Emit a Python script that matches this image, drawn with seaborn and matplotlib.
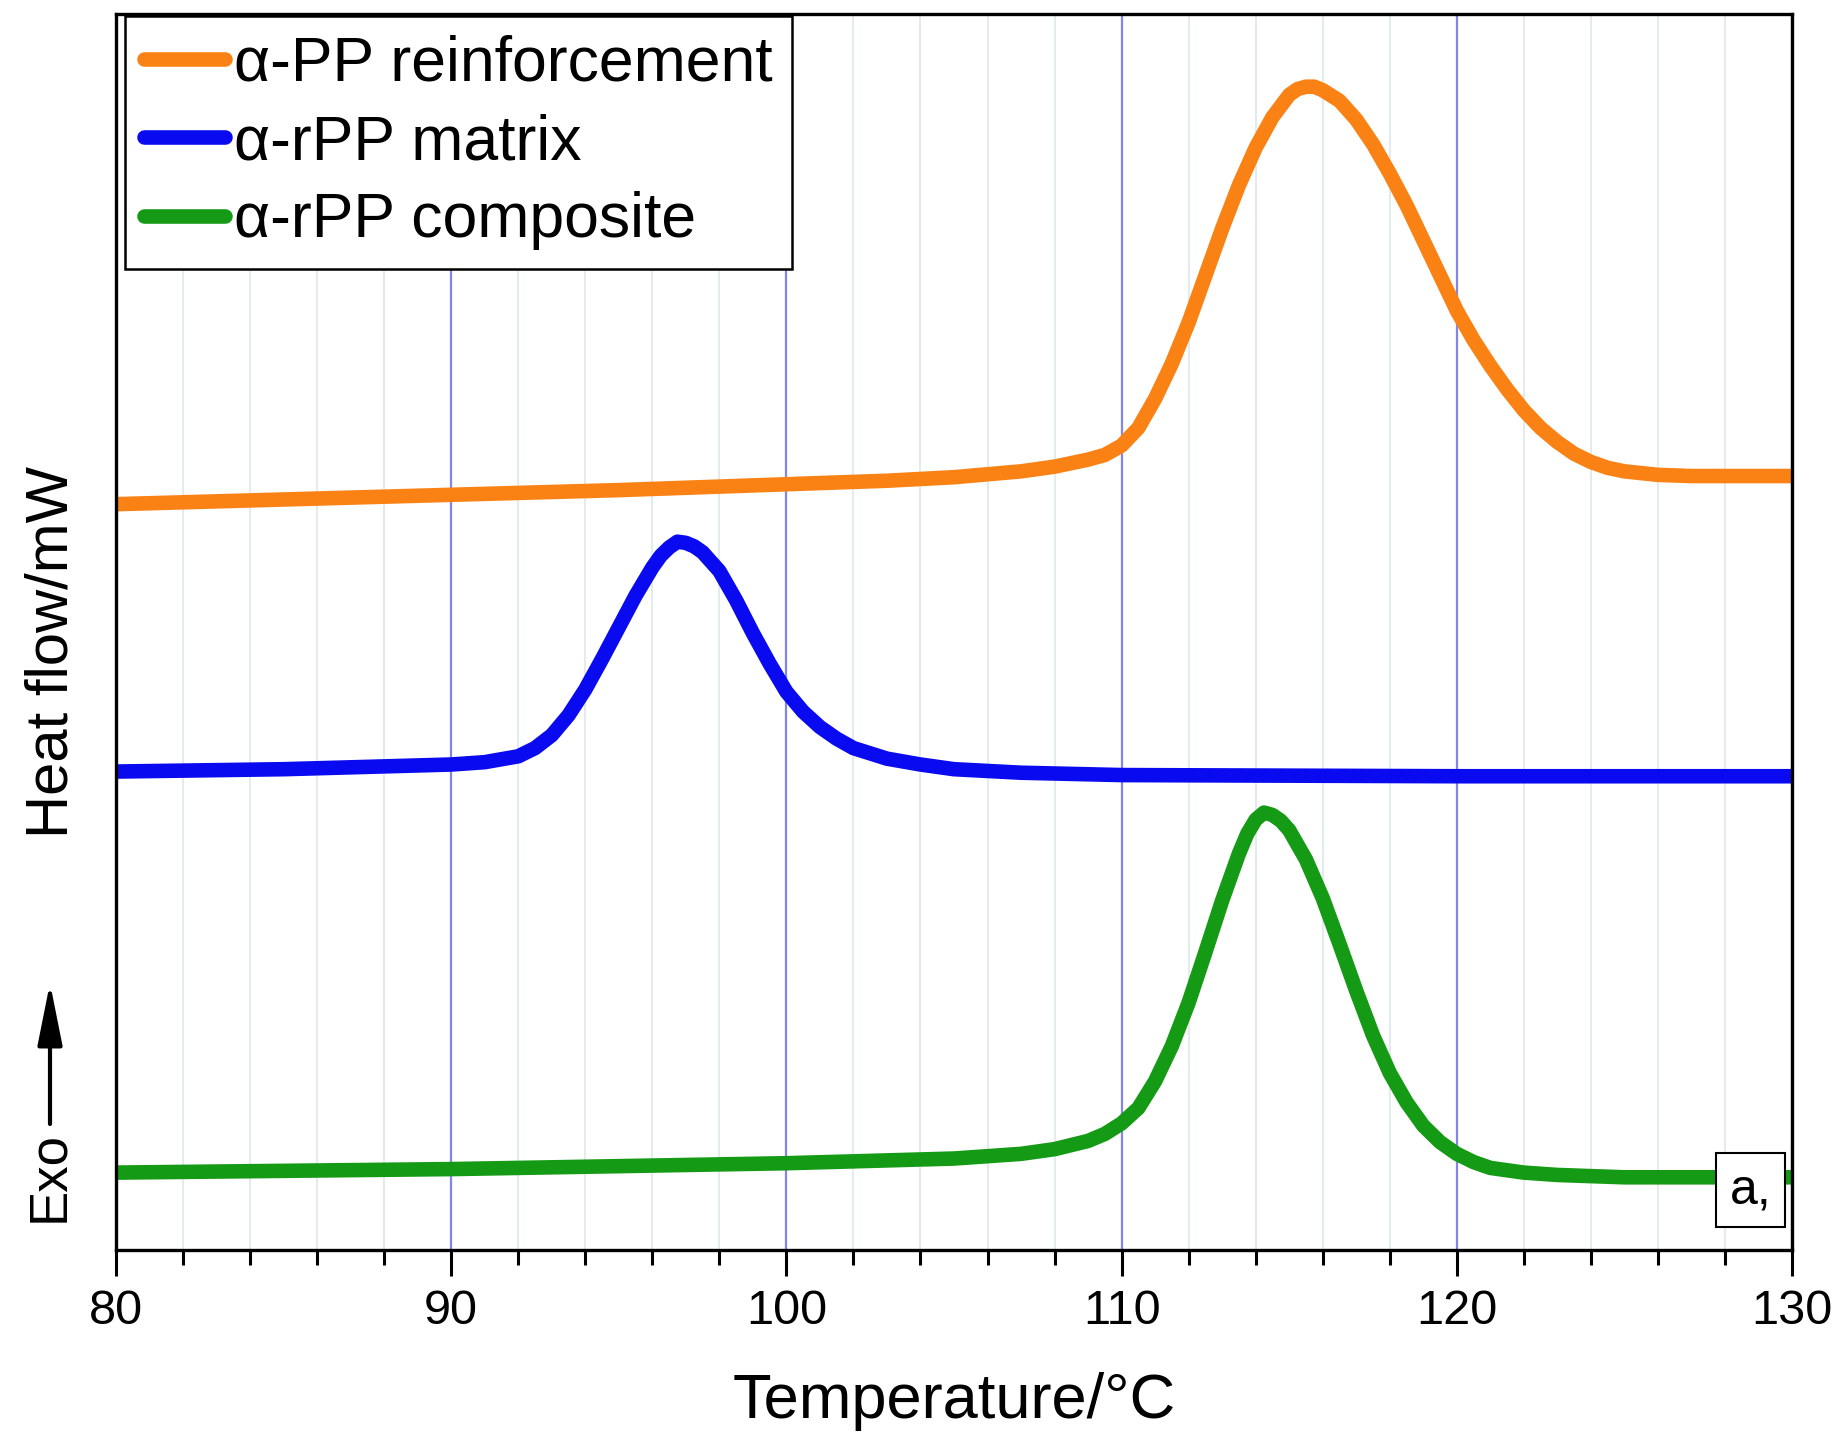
import numpy as np
import pandas as pd
import matplotlib
matplotlib.use("Agg")
import matplotlib.pyplot as plt
import seaborn as sns

# ---- data (Temperature in °C, heat flow in arbitrary mW units) ----
orange_T = [80, 85, 90, 95, 100, 103, 105, 107, 108, 109, 109.5, 110, 110.5, 111, 111.5,
            112, 112.5, 113, 113.5, 114, 114.5, 115, 115.25, 115.5, 115.75, 116, 116.5, 117, 117.5, 118,
            118.5, 119, 119.5, 120, 120.5, 121, 121.5, 122, 122.5, 123, 123.5, 124, 124.5,
            125, 126, 127, 130]
orange_HF = [6.36, 6.40, 6.44, 6.48, 6.53, 6.56, 6.59, 6.64, 6.68, 6.74, 6.78, 6.86, 7.01, 7.26, 7.56,
             7.91, 8.31, 8.71, 9.08, 9.40, 9.66, 9.85, 9.90, 9.92, 9.92, 9.89, 9.80, 9.64, 9.43, 9.18,
             8.91, 8.61, 8.31, 8.01, 7.76, 7.54, 7.34, 7.16, 7.01, 6.89, 6.79, 6.72, 6.67,
             6.64, 6.61, 6.60, 6.60]

blue_T = [80, 85, 90, 91, 92, 92.5, 93, 93.5, 94, 94.5, 95, 95.5, 96, 96.25, 96.5, 96.75, 97, 97.25, 97.5,
          98, 98.5, 99, 99.5, 100, 100.5, 101, 101.5, 102, 103, 104, 105, 107, 110, 120, 130]
blue_HF = [4.08, 4.10, 4.14, 4.16, 4.21, 4.28, 4.39, 4.56, 4.78, 5.04, 5.31, 5.58, 5.82, 5.92, 5.99, 6.04, 6.03, 6.00, 5.95,
           5.79, 5.54, 5.26, 5.00, 4.76, 4.59, 4.46, 4.36, 4.28, 4.19, 4.14, 4.10, 4.07, 4.05, 4.04, 4.04]

green_T = [80, 90, 100, 105, 107, 108, 109, 109.5, 110, 110.5, 111, 111.5, 112, 112.5, 113, 113.5,
           113.75, 114, 114.25, 114.5, 114.75, 115, 115.5, 116, 116.5, 117, 117.5, 118, 118.5, 119, 119.5, 120,
           120.5, 121, 122, 123, 125, 130]
green_HF = [0.66, 0.69, 0.74, 0.78, 0.82, 0.86, 0.93, 0.99, 1.08, 1.21, 1.44, 1.74, 2.11, 2.54, 2.98, 3.38,
            3.55, 3.67, 3.73, 3.71, 3.66, 3.58, 3.33, 3.00, 2.61, 2.21, 1.83, 1.51, 1.26, 1.06, 0.92, 0.82,
            0.75, 0.70, 0.66, 0.64, 0.62, 0.62]

labels = ["\u03b1-PP reinforcement", "\u03b1-rPP matrix", "\u03b1-rPP composite"]
colors = ["#fa8214", "#0a0af0", "#149a14"]
x_ticks = [80, 90, 100, 110, 120, 130]

df = pd.concat([
    pd.DataFrame({"T": orange_T, "HF": orange_HF, "sample": labels[0]}),
    pd.DataFrame({"T": blue_T, "HF": blue_HF, "sample": labels[1]}),
    pd.DataFrame({"T": green_T, "HF": green_HF, "sample": labels[2]}),
], ignore_index=True)

sns.set_style("white")
plt.rcParams["font.family"] = ["Liberation Sans", "DejaVu Sans"]
plt.rcParams["text.color"] = "black"
plt.rcParams["xtick.color"] = "black"
plt.rcParams["axes.labelcolor"] = "black"

W, H, DPI = 1839, 1444, 100
LW = 10.5
fig = plt.figure(figsize=(W / DPI, H / DPI), dpi=DPI)
L, R, B, T_ = 116, 1792, 1250, 14
ax = fig.add_axes([L / W, 1 - B / H, (R - L) / W, (B - T_) / H])

sns.lineplot(data=df, x="T", y="HF", hue="sample", hue_order=labels,
             palette=dict(zip(labels, colors)), linewidth=LW, sort=False,
             estimator=None, ax=ax, legend=True)
for ln in ax.get_lines():
    ln.set_solid_capstyle("round")
    ln.set_solid_joinstyle("round")

ax.set_xlim(80, 130)
ax.set_ylim(0, 10.54)
ax.set_xticks(x_ticks)
ax.set_xticks(np.arange(80, 131, 2), minor=True)
ax.set_yticks([])
ax.set_xlabel("")
ax.set_ylabel("")
ax.set_axisbelow(True)
ax.grid(which="minor", axis="x", color="#e4ebee", lw=1.5)
ax.grid(which="major", axis="x", color="#8585e8", lw=1.6)
ax.tick_params(axis="x", which="major", direction="out", length=19, width=2.2,
               labelsize=35, pad=9, color="black", labelcolor="black", bottom=True)
ax.tick_params(axis="x", which="minor", direction="out", length=10.5, width=2.2,
               color="black", bottom=True)
for s in ax.spines.values():
    s.set_visible(True)
    s.set_color("black")
    s.set_linewidth(2.4)

handles, hl = ax.get_legend_handles_labels()
for h in handles:
    h.set_linewidth(LW)
    h.set_solid_capstyle("round")
leg = ax.legend(handles, hl, loc="upper left", bbox_to_anchor=(0.0054, 0.9984),
                borderaxespad=0, fontsize=45, frameon=True, fancybox=False,
                edgecolor="black", framealpha=1, handlelength=1.3,
                handletextpad=0.15, labelspacing=0.31, borderpad=0.3)
leg.get_frame().set_linewidth(1.8)

ax.text(0.9752, 0.0485, "a,", transform=ax.transAxes, fontsize=36, ha="center",
        va="center", bbox=dict(boxstyle="square,pad=0.28", fc="white", ec="black", lw=1.5),
        zorder=5)

fig.text(954 / W, 1 - 1418 / H, "Temperature/\u00b0C", fontsize=45.5, ha="center", va="baseline")
fig.text(68 / W, 1 - 651.5 / H, "Heat flow/mW", fontsize=43, rotation=90,
         rotation_mode="anchor", ha="center", va="baseline")
fig.text(63 / W, 1 - 1176 / H, "Exo", fontsize=38, rotation=90,
         rotation_mode="anchor", ha="center", va="baseline")
fig.patches.append(matplotlib.patches.FancyArrowPatch(
    (50 / W, 1 - 1124 / H), (50 / W, 1 - 983 / H), transform=fig.transFigure,
    arrowstyle="-|>,head_length=1.9,head_width=0.38", mutation_scale=20,
    color="black", lw=3, shrinkA=0, shrinkB=0))

fig.savefig("out.png", dpi=DPI)
